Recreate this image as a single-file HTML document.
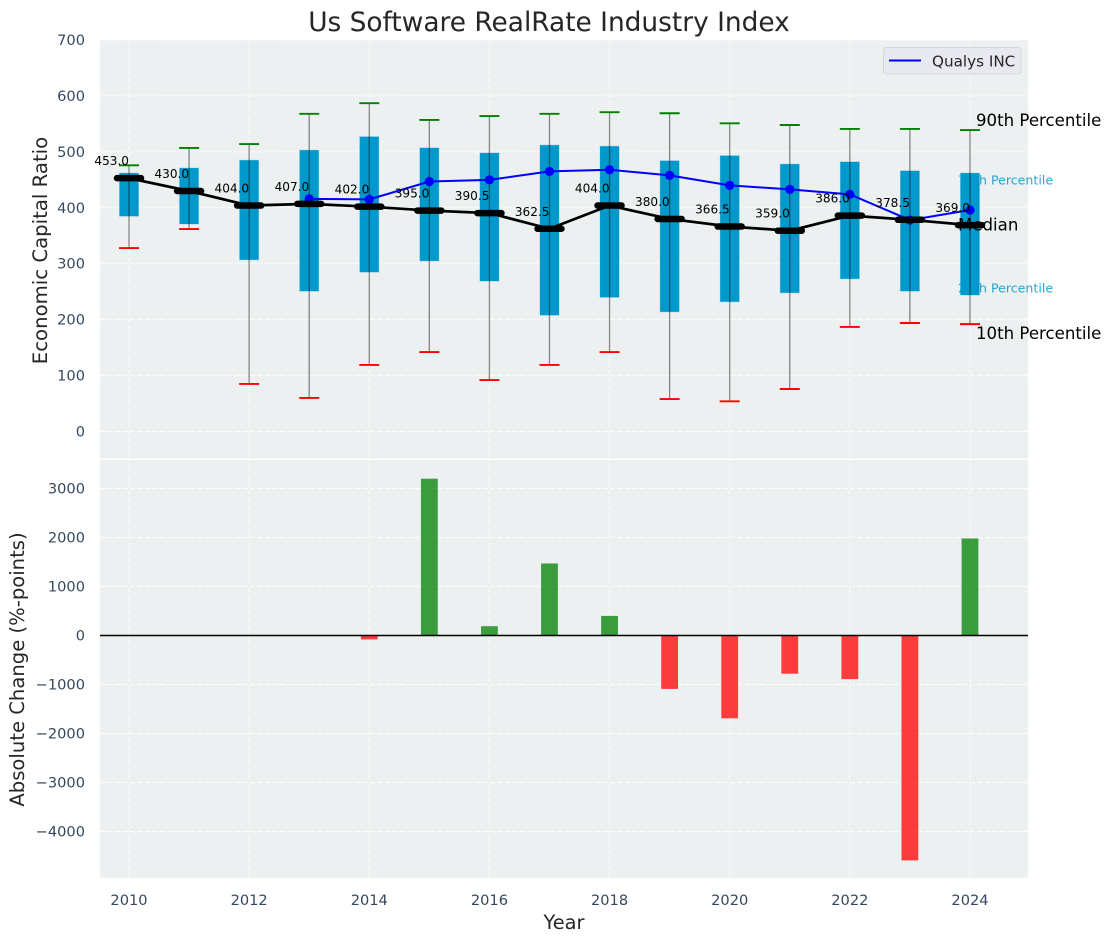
<!DOCTYPE html>
<html lang="en">
<head>
<meta charset="utf-8">
<title>Us Software RealRate Industry Index</title>
<style>
html,body{margin:0;padding:0;background:#fff;}
svg{display:block;}
text{font-family:"DejaVu Sans","Liberation Sans",sans-serif;}
</style>
</head>
<body>
<svg id="chart" xmlns="http://www.w3.org/2000/svg" width="1111" height="942" viewBox="0 0 1111 942">
  <rect x="0" y="0" width="1111" height="942" fill="#ffffff"/>
  <rect x="100" y="40" width="928" height="418.5" fill="#ecf0f1"/>
  <rect x="100" y="460" width="928" height="418" fill="#ecf0f1"/>
  <g id="grid"></g>
  <g id="ticks"></g>
  <text x="549" y="31" font-size="26.4" fill="#262626" text-anchor="middle">Us Software RealRate Industry Index</text>
  <text transform="translate(47,250.5) rotate(-90)" font-size="19.7" fill="#262626" text-anchor="middle">Economic Capital Ratio</text>
  <text transform="translate(24,669.5) rotate(-90)" font-size="19.6" fill="#262626" text-anchor="middle">Absolute Change (%-points)</text>
  <text x="564" y="929" font-size="19.4" fill="#262626" text-anchor="middle">Year</text>
  <text x="958" y="184.5" font-size="12.6" fill="#0099cc" fill-opacity="0.85">75th Percentile</text>
  <text x="958" y="292.5" font-size="12.6" fill="#0099cc" fill-opacity="0.85">25th Percentile</text>
  <g id="marks"></g>
  <text x="976" y="126" font-size="16.6" fill="#000000">90th Percentile</text>
  <text x="958" y="230.5" font-size="16.6" fill="#000000">Median</text>
  <text x="976" y="339" font-size="16.6" fill="#000000">10th Percentile</text>
  <g id="overlay"></g>
  <g id="bars"></g>
  <line x1="100" x2="1028" y1="635.5" y2="635.5" stroke="#000000" stroke-width="1.4"/>
  <g>
    <rect x="883.5" y="47.5" width="137.5" height="26.5" rx="3" fill="#e8e9f0" stroke="#d6d6d8" stroke-width="1"/>
    <line x1="889" x2="921" y1="60.5" y2="60.5" stroke="#0000ff" stroke-width="2"/>
    <text x="932" y="66.5" font-size="15.2" fill="#262626">Qualys INC</text>
  </g>
</svg>
<script>
const years = [2010,2011,2012,2013,2014,2015,2016,2017,2018,2019,2020,2021,2022,2023,2024];
const p90 = [476,507,514,568,587,557,564,568,571,569,551,548,541,541,539];
const p75 = [462,471,485,503,527,507,498,512,510,484,493,478,482,466,462];
const medianValues = [453,430,404,407,402,395,390.5,362.5,404,380,366.5,359,386,378.5,369];
const p25 = [385,371,307,251,285,305,269,208,240,214,232,248,273,251,244];
const p10 = [328,362,85,60,119,142,92,119,142,58,54,76,187,194,192];
const qualysYears = [2013,2014,2015,2016,2017,2018,2019,2020,2021,2022,2023,2024];
const qualysValues = [416,415,447,450,465,468,458,440,433,424,378,396];
const changeYears = [2014,2015,2016,2017,2018,2019,2020,2021,2022,2023,2024];
const changeValues = [-80,3200,190,1470,400,-1090,-1690,-780,-890,-4590,1980];
const xTicks = [2010,2012,2014,2016,2018,2020,2022,2024];
const topTicks = [0,100,200,300,400,500,600,700];
const bottomTicks = [-4000,-3000,-2000,-1000,0,1000,2000,3000];

const NS = 'http://www.w3.org/2000/svg';
const xScale = v => 129 + (v - 2010) * 60.07;
const yTop = v => 431.5 - v * 0.5593;
const yBottom = v => 635.5 - v * 0.049;

function make(tag, parentId, attrs, label) {
  const el = document.createElementNS(NS, tag);
  for (const k in attrs) el.setAttribute(k, attrs[k]);
  if (label !== undefined) el.textContent = label;
  document.getElementById(parentId).appendChild(el);
  return el;
}

const gridStyle = {stroke:'#ffffff','stroke-width':1,'stroke-dasharray':'5 2.5','stroke-opacity':0.85};
const tickFont = 14.6;

xTicks.forEach(t => {
  const x = xScale(t);
  const a = make('line','grid',Object.assign({x1:x,x2:x,y1:40,y2:458.5},gridStyle));
  
  
  const b = make('line','grid',Object.assign({x1:x,x2:x,y1:460,y2:878},gridStyle));
  
  
  const l = make('text','ticks',{x:x,y:905,'font-size':tickFont,fill:'#34495e','text-anchor':'middle'},String(t));
  
  
});
topTicks.forEach(t => {
  const y = yTop(t);
  const g = make('line','grid',Object.assign({x1:100,x2:1028,y1:y,y2:y},gridStyle));
  
  
  const l = make('text','ticks',{x:85,y:y+5,'font-size':tickFont,fill:'#34495e','text-anchor':'end'},String(t));
  
  
});
bottomTicks.forEach(t => {
  const y = yBottom(t);
  const g = make('line','grid',Object.assign({x1:100,x2:1028,y1:y,y2:y},gridStyle));
  
  
  const label = t < 0 ? '\u2212' + Math.abs(t) : String(t);
  const l = make('text','ticks',{x:85,y:y+5,'font-size':tickFont,fill:'#34495e','text-anchor':'end'},label);
  
  
});

years.forEach((yr,i) => {
  const x = xScale(yr);
  const top = yTop(p75[i]), bot = yTop(p25[i]);
  const box = make('rect','marks',{x:x-9.5,y:top,width:19,height:bot-top,fill:'#0099cc',stroke:'#0099cc','stroke-opacity':0.25,'stroke-width':1});
  
  
  const stem = make('line','marks',{x1:x,x2:x,y1:yTop(p90[i]),y2:yTop(p10[i]),stroke:'#000000','stroke-opacity':0.45,'stroke-width':1.3});
  
  
  const capHi = make('line','marks',{x1:x-10,x2:x+10,y1:yTop(p90[i]),y2:yTop(p90[i]),stroke:'#008000','stroke-width':1.9});
  
  
  const capLo = make('line','marks',{x1:x-10,x2:x+10,y1:yTop(p10[i]),y2:yTop(p10[i]),stroke:'#ff0000','stroke-width':1.9});
  
  
});

const qualysPath = make('polyline','marks',{points:qualysYears.map((y,i)=>xScale(y)+','+yTop(qualysValues[i])).join(' '),fill:'none',stroke:'#0000ff','stroke-width':2});


qualysYears.forEach((y,i) => {
  const c = make('circle','marks',{cx:xScale(y),cy:yTop(qualysValues[i]),r:4.6,fill:'#0000ff'});
  
  
});

const medianPath = make('polyline','overlay',{points:years.map((y,i)=>xScale(y)+','+yTop(medianValues[i])).join(' '),fill:'none',stroke:'#000000','stroke-width':2.7});


years.forEach((yr,i) => {
  const x = xScale(yr), y = yTop(medianValues[i]);
  const m = make('line','overlay',{x1:x-12,x2:x+12,y1:y,y2:y,stroke:'#000000','stroke-width':6.5,'stroke-linecap':'round'});
  
  
  const l = make('text','overlay',{x:x,y:y-13,'font-size':12.1,fill:'#000000','text-anchor':'end'},medianValues[i].toFixed(1));
  
  
});

changeYears.forEach((yr,i) => {
  const v = changeValues[i];
  const y0 = yBottom(0), y1 = yBottom(v);
  const b = make('rect','bars',{x:xScale(yr)-8.4,y:Math.min(y0,y1),width:16.8,height:Math.abs(y1-y0),fill:v>=0?'#008000':'#ff0000','fill-opacity':0.75});
  
  
});
</script>
</body>
</html>
